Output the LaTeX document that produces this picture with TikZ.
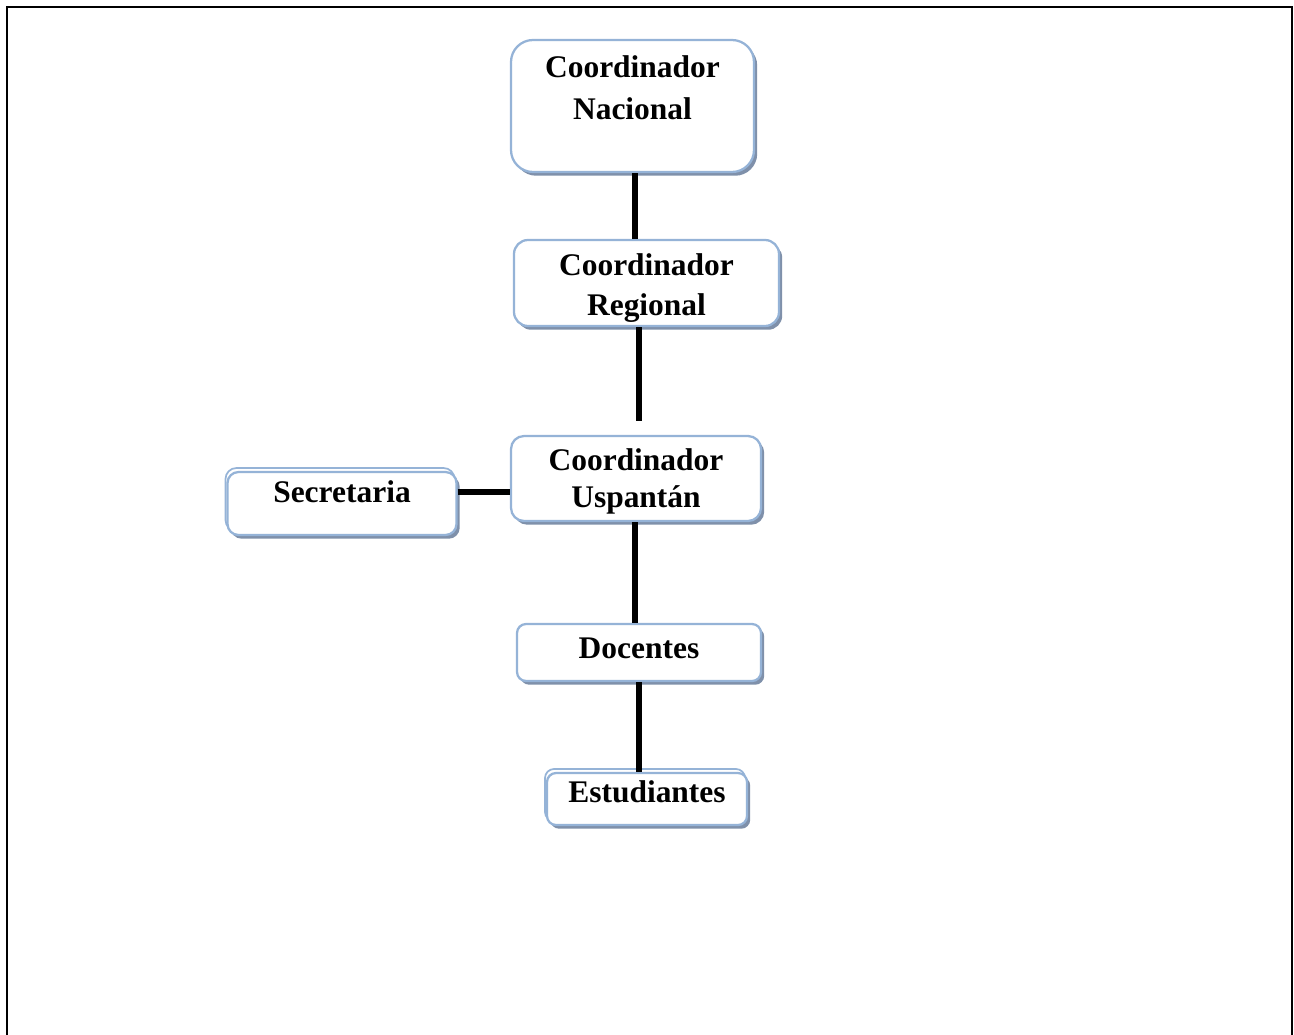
\documentclass[tikz,border=0pt]{standalone}
\usepackage{fontspec}
\setmainfont{Liberation Serif}
\usetikzlibrary{shadows}
\definecolor{boxline}{RGB}{149,179,215}
\definecolor{boxshade}{RGB}{120,138,165}
\tikzset{
  orgbox/.style={draw=boxline, line width=1.7pt, fill=white, align=center,
    inner xsep=0pt, inner ysep=0pt, anchor=base,
    font=\bfseries\fontsize{23.6pt}{31pt}\selectfont,
    drop shadow={shadow xshift=2.4pt, shadow yshift=-2.8pt, fill=boxshade, opacity=0.95}},
  twinbox/.style={orgbox,
    preaction={draw=boxline, line width=1.3pt, transform canvas={xshift=-1.5pt, yshift=3pt}}},
  conn/.style={line width=4.2pt},
}

\begin{document}
\begin{tikzpicture}[x=0.75pt,y=-0.75pt]
  \useasboundingbox (0,0) rectangle (1294,1034);
  \draw[line width=2.2pt] (7,1050) -- (7,7) -- (1292,7) -- (1292,1050);

  % boxes
  \node[orgbox, minimum width=243*0.75pt, text height=80*0.75pt, text depth=52*0.75pt,
        rounded corners=22*0.75pt, font=\bfseries\fontsize{23.6pt}{32pt}\selectfont]
        (nac) at (632.5,120) {Coordinador\\Nacional};
  \node[orgbox, minimum width=265*0.75pt, text height=75*0.75pt, text depth=11*0.75pt,
        rounded corners=14*0.75pt, font=\bfseries\fontsize{23.6pt}{30pt}\selectfont]
        (reg) at (646.5,315) {Coordinador\\Regional};
  \node[orgbox, minimum width=250*0.75pt, text height=71*0.75pt, text depth=14*0.75pt,
        rounded corners=13*0.75pt, font=\bfseries\fontsize{23.6pt}{27.75pt}\selectfont]
        (usp) at (636,507) {Coordinador\\Uspantán};
  \node[twinbox, minimum width=229*0.75pt, text height=30*0.75pt, text depth=33*0.75pt,
        rounded corners=11*0.75pt] (sec) at (342,502) {Secretaria};
  \node[orgbox, minimum width=244*0.75pt, text height=34*0.75pt, text depth=23*0.75pt,
        rounded corners=9*0.75pt] (doc) at (639,658) {Docentes};
  \node[twinbox, minimum width=200*0.75pt, text height=29*0.75pt, text depth=23*0.75pt,
        rounded corners=9*0.75pt] (est) at (647,802) {Estudiantes};

  % connectors
  \draw[conn] (nac.south -| 635,0) -- (reg.north -| 635,0);
  \draw[conn, shorten >=10.5pt] (reg.south -| 639,0) -- (usp.north -| 639,0);
  \draw[conn] (usp.south -| 635,0) -- (doc.north -| 635,0);
  \draw[conn] (doc.south -| 639,0) -- (est.north -| 639,0);
  \draw[conn] (sec.east |- 0,492) -- (usp.west |- 0,492);
\end{tikzpicture}
\end{document}
